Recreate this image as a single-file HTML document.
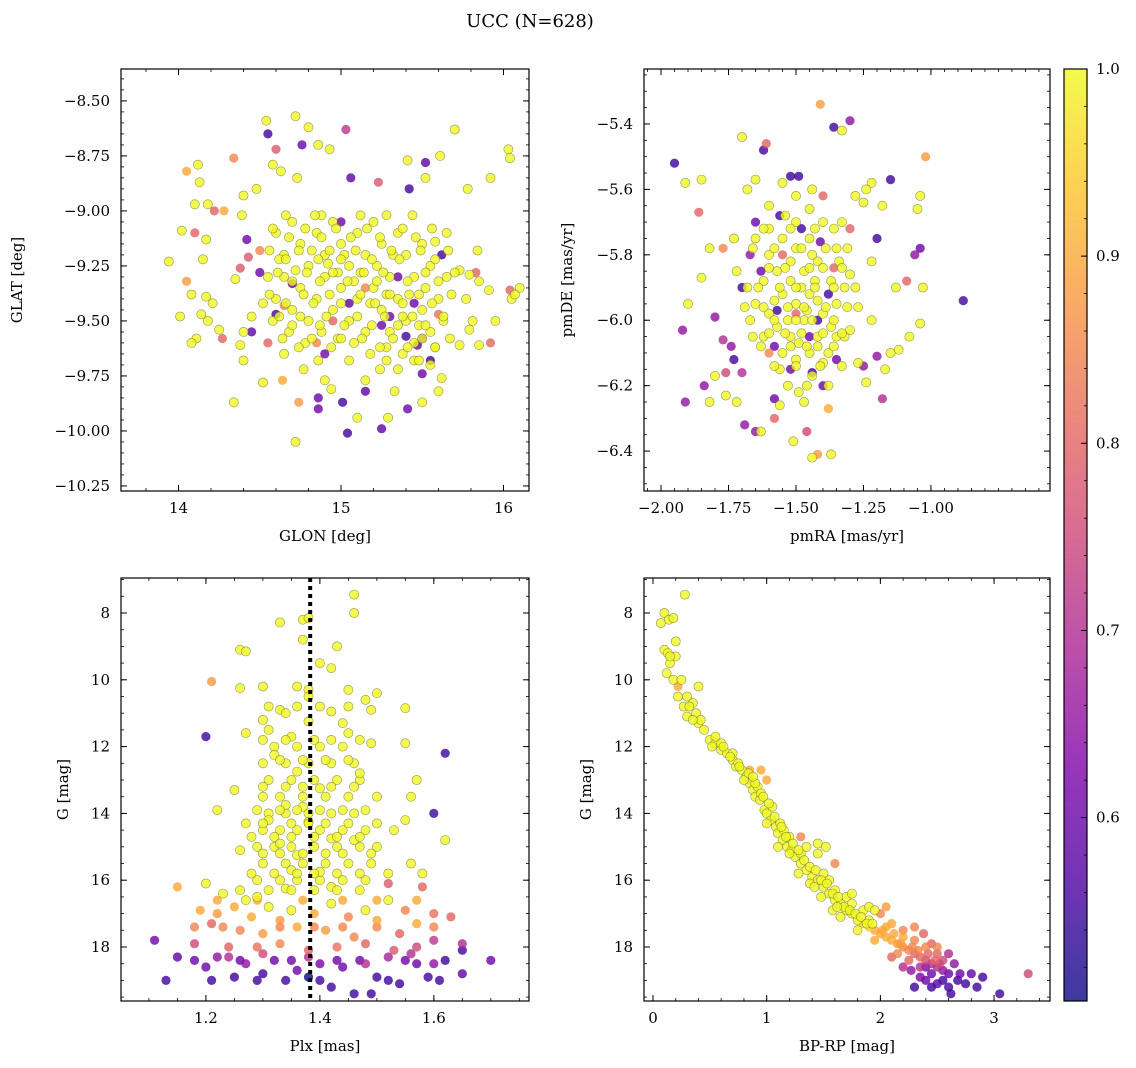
<!DOCTYPE html>
<html><head><meta charset="utf-8">
<style>
html,body{margin:0;padding:0;background:#fff;}
svg{display:block;font-family:"DejaVu Serif","Liberation Serif",serif;}
</style></head>
<body>
<svg id="fig" width="1136" height="1068" viewBox="0 0 1136 1068" xmlns="http://www.w3.org/2000/svg">
<defs>
<linearGradient id="cbgrad" x1="0" y1="1" x2="0" y2="0">
<stop offset="0" stop-color="#0d0887"/><stop offset="0.125" stop-color="#4c02a1"/><stop offset="0.25" stop-color="#7e03a8"/><stop offset="0.375" stop-color="#a92395"/><stop offset="0.5" stop-color="#cc4778"/><stop offset="0.625" stop-color="#e56b5d"/><stop offset="0.75" stop-color="#f89540"/><stop offset="0.875" stop-color="#fdc527"/><stop offset="1" stop-color="#f0f921"/>
</linearGradient>
</defs>
<text x="530" y="27" font-size="18" text-anchor="middle">UCC (N=628)</text>
</svg>
<script>
// ---------- data (x, y, membership probability) ----------
const glonGlat = [[14.55,-8.65,0.55],[14.6,-8.72,0.78],[14.05,-8.82,0.9],[14.12,-8.79,1],[14.13,-8.87,1],[14.34,-8.76,0.85],[14.54,-8.59,1],[14.72,-8.57,1],[14.8,-8.62,1],[15.03,-8.63,0.72],[14.76,-8.7,0.6],[14.86,-8.7,1],[14.93,-8.72,1],[14.58,-8.79,1],[14.63,-8.82,1],[14.73,-8.85,1],[15.41,-8.77,1],[15.52,-8.78,0.58],[15.52,-8.85,1],[15.61,-8.75,1],[15.7,-8.63,1],[16.03,-8.72,1],[16.04,-8.76,1],[15.06,-8.85,0.58],[15.23,-8.87,0.78],[15.42,-8.9,0.55],[15.78,-8.9,1],[15.92,-8.85,1],
[14.1,-8.97,1],[14.18,-8.97,1],[14.28,-9.0,0.9],[14.39,-9.02,1],[14.1,-9.1,0.8],[14.22,-9.0,0.8],[14.4,-8.93,1],[14.48,-8.9,1],[14.02,-9.09,1],[13.94,-9.23,1],[14.05,-9.32,0.88],[14.15,-9.22,1],[14.17,-9.13,1],[14.42,-9.13,0.6],[14.43,-9.21,0.78],[14.38,-9.26,0.78],[14.35,-9.31,1],
[14.17,-9.39,1],[14.21,-9.42,1],[14.08,-9.38,1],[14.01,-9.48,1],[14.14,-9.47,1],[14.18,-9.5,1],[14.11,-9.58,1],[14.25,-9.54,1],[14.27,-9.58,0.8],[14.4,-9.55,1],[14.45,-9.48,1],[14.38,-9.61,1],[14.08,-9.6,1],[14.4,-9.68,1],[14.52,-9.78,1],[14.64,-9.77,0.9],[14.65,-9.65,1],[14.77,-9.72,1],[14.9,-9.77,1],[14.34,-9.87,1],[14.74,-9.87,0.88],[14.72,-10.05,1],[14.94,-9.81,1],[15.01,-9.87,0.55],[14.86,-9.85,0.6],
[15.15,-9.82,0.58],[15.33,-9.82,1],[15.15,-9.77,1],[15.24,-9.72,1],[15.41,-9.9,0.6],[15.5,-9.87,1],[15.29,-9.94,1],[15.1,-9.94,1],[15.04,-10.01,0.55],[15.25,-9.99,0.58],[14.86,-9.9,0.6],
[15.73,-9.27,1],[15.79,-9.29,1],[15.85,-9.32,1],[15.91,-9.36,1],[15.77,-9.4,1],[15.81,-9.5,1],[15.63,-9.5,1],[15.73,-9.61,1],[15.85,-9.61,1],[15.95,-9.5,1],[15.79,-9.54,1],[16.04,-9.36,0.8],[16.05,-9.4,1],[16.1,-9.35,1],[16.07,-9.38,1],[15.84,-9.18,1],[15.65,-9.1,1],[15.58,-9.14,1],[15.83,-9.28,0.8],[15.92,-9.6,0.8],[15.55,-9.7,1],[15.62,-9.76,1],[15.5,-9.74,0.6],[15.47,-9.61,0.6],[15.6,-9.82,1],
[14.6,-9.1,1],[14.65,-9.2,1],[14.7,-9.05,1],[14.75,-9.15,1],[14.8,-9.25,1],[14.85,-9.1,1],[14.9,-9.2,1],[14.95,-9.05,1],[15.0,-9.15,1],[15.05,-9.25,1],[15.1,-9.1,1],[15.15,-9.2,1],[15.2,-9.05,1],[15.25,-9.15,1],[15.3,-9.3,1],[15.35,-9.1,1],[15.4,-9.2,1],[15.45,-9.3,1],[15.5,-9.15,1],[15.55,-9.25,1],
[14.55,-9.3,1],[14.6,-9.4,1],[14.65,-9.3,1],[14.7,-9.45,1],[14.75,-9.35,1],[14.8,-9.5,1],[14.85,-9.4,1],[14.9,-9.3,1],[14.95,-9.45,1],[15.0,-9.35,1],[15.05,-9.5,1],[15.1,-9.4,1],[15.15,-9.55,1],[15.2,-9.35,1],[15.25,-9.45,1],[15.3,-9.55,1],[15.35,-9.4,1],[15.4,-9.5,1],[15.45,-9.6,1],[15.5,-9.45,1],[15.55,-9.55,1],[15.6,-9.4,1],[15.65,-9.3,1],
[14.62,-9.22,1],[14.72,-9.27,1],[14.82,-9.18,1],[14.92,-9.24,1],[15.02,-9.2,1],[15.12,-9.28,1],[15.22,-9.25,1],[15.32,-9.2,1],[15.42,-9.38,1],[15.52,-9.35,1],[14.88,-9.02,1],[14.98,-9.28,1],[15.08,-9.32,1],[15.18,-9.42,1],[15.28,-9.38,1],[15.38,-9.48,1],[15.48,-9.52,1],[15.58,-9.62,1],[15.28,-9.62,1],[15.18,-9.65,1],[15.08,-9.6,1],[14.98,-9.58,1],[14.88,-9.55,1],[14.78,-9.6,1],[14.68,-9.55,1],[14.58,-9.5,1],[14.52,-9.42,1],[15.38,-9.65,1],[15.45,-9.68,1],[15.35,-9.72,1],
[14.7,-9.33,0.6],[15.05,-9.42,0.58],[15.25,-9.52,0.6],[15.4,-9.57,0.55],[15.5,-9.58,0.6],[14.9,-9.65,0.6],[15.3,-9.48,0.6],[14.5,-9.28,0.6],[14.6,-9.47,0.55],[15.45,-9.42,0.6],[15.0,-9.05,0.6],[15.35,-9.3,0.6],[14.45,-9.55,0.58],[15.55,-9.68,0.55],[15.62,-9.2,0.55],
[14.65,-9.43,0.85],[14.95,-9.5,0.8],[15.15,-9.35,0.85],[14.85,-9.6,0.85],[14.5,-9.18,0.85],[15.6,-9.47,0.82],[14.55,-9.6,0.8],
[14.66,-9.02,1],[14.84,-9.02,1],[15.12,-9.02,1],[15.28,-9.02,1],[15.44,-9.02,1],[14.58,-9.08,1],[14.78,-9.08,1],[14.97,-9.08,1],[15.16,-9.08,1],[15.38,-9.08,1],[15.56,-9.08,1],
[14.68,-9.12,1],[14.88,-9.12,1],[15.06,-9.12,1],[15.24,-9.12,1],[15.46,-9.12,1],[14.56,-9.18,1],[14.74,-9.18,1],[14.93,-9.18,1],[15.09,-9.18,1],[15.31,-9.18,1],[15.49,-9.18,1],[15.66,-9.18,1],
[14.66,-9.22,1],[14.86,-9.22,1],[15.0,-9.22,1],[15.19,-9.22,1],[15.36,-9.22,1],[15.58,-9.22,1],[14.61,-9.28,1],[14.79,-9.28,1],[14.95,-9.28,1],[15.14,-9.28,1],[15.26,-9.28,1],[15.52,-9.28,1],[15.7,-9.28,1],
[14.7,-9.32,1],[14.87,-9.32,1],[15.04,-9.32,1],[15.22,-9.32,1],[15.41,-9.32,1],[15.6,-9.32,1],[14.56,-9.38,1],[14.77,-9.38,1],[14.93,-9.38,1],[15.12,-9.38,1],[15.3,-9.38,1],[15.48,-9.38,1],[15.68,-9.38,1],
[14.66,-9.42,1],[14.83,-9.42,1],[15.0,-9.42,1],[15.21,-9.42,1],[15.38,-9.42,1],[15.56,-9.42,1],[14.62,-9.48,1],[14.75,-9.48,1],[14.91,-9.48,1],[15.1,-9.48,1],[15.27,-9.48,1],[15.44,-9.48,1],[15.63,-9.48,1],
[14.7,-9.52,1],[14.87,-9.52,1],[15.02,-9.52,1],[15.19,-9.52,1],[15.35,-9.52,1],[15.52,-9.52,1],[14.64,-9.58,1],[14.82,-9.58,1],[15.0,-9.58,1],[15.13,-9.58,1],[15.32,-9.58,1],[15.5,-9.58,1],[15.67,-9.58,1],
[14.74,-9.62,1],[14.94,-9.62,1],[15.24,-9.62,1],[15.41,-9.62,1],[15.58,-9.62,1],[14.86,-9.68,1],[15.05,-9.68,1],[15.28,-9.68,1],[15.48,-9.68,1]];

const pmraPmde = [[-1.95,-5.52,0.55],[-1.91,-5.58,1],[-1.85,-5.57,1],[-1.86,-5.67,0.8],[-1.41,-5.34,0.88],[-1.36,-5.41,0.55],[-1.3,-5.39,0.65],[-1.33,-5.42,1],[-1.70,-5.44,1],[-1.61,-5.46,0.8],[-1.62,-5.48,0.55],[-1.02,-5.5,0.88],[-1.15,-5.57,0.55],[-1.22,-5.58,1],[-1.24,-5.6,1],[-1.04,-5.62,1],[-1.05,-5.66,1],[-0.88,-5.94,0.55],[-1.92,-6.03,0.65],[-1.91,-6.25,0.65],[-1.84,-6.2,0.65],[-1.82,-6.25,1],[-1.72,-6.25,1],[-1.69,-6.32,0.65],[-1.65,-6.34,0.65],[-1.63,-6.34,1],[-1.58,-6.3,0.8],[-1.51,-6.37,1],[-1.46,-6.34,0.75],[-1.42,-6.41,0.88],[-1.37,-6.41,1],[-1.44,-6.42,1],[-1.38,-6.27,0.9],[-1.49,-6.22,1],[-1.47,-6.25,1],[-1.4,-6.2,0.6],[-1.44,-6.16,0.55],[-1.58,-6.24,0.6],[-1.56,-6.26,1],[-1.76,-6.23,1],[-1.8,-6.17,1],[-1.9,-5.95,1],[-1.85,-5.87,1],[-1.82,-5.78,1],[-1.77,-5.78,0.85],[-1.73,-5.75,1],[-1.68,-5.6,1],[-1.65,-5.57,1],[-1.55,-5.58,1],[-1.52,-5.56,0.55],[-1.49,-5.56,0.55],[-1.44,-5.6,1],[-1.4,-5.62,0.8],[-1.28,-5.62,1],[-1.25,-5.64,1],[-1.18,-5.65,1],[-1.06,-5.8,0.65],[-1.04,-5.78,0.6],[-1.03,-5.9,1],[-1.04,-6.01,1],[-1.08,-6.05,1],[-1.12,-6.09,1],[-1.15,-6.1,1],[-1.18,-6.24,0.7],[-1.17,-6.15,1],[-1.2,-6.11,0.65],[-1.25,-6.14,0.65],[-1.27,-6.13,1],[-1.24,-6.19,1],[-1.13,-5.9,1],[-1.09,-5.88,0.8],[-1.3,-5.86,1],[-1.2,-5.75,0.55],[-1.77,-6.06,0.7],[-1.73,-6.12,0.55],[-1.7,-6.16,0.7],[-1.76,-6.16,0.75],[-1.74,-6.08,0.65],[-1.8,-5.99,0.65],[-1.69,-5.96,1],[-1.72,-5.85,1],[-1.67,-5.8,0.65],[-1.6,-5.72,1],[-1.56,-5.68,0.55],[-1.33,-5.7,1],[-1.3,-5.72,0.8],[-1.22,-5.82,1],[-1.27,-5.96,1],[-1.35,-6.05,1],[-1.3,-6.03,1],[-1.22,-6.0,1],
[-1.65,-5.75,1],[-1.6,-5.8,1],[-1.55,-5.75,1],[-1.5,-5.7,1],[-1.45,-5.75,1],[-1.4,-5.7,1],[-1.35,-5.78,1],[-1.62,-5.88,1],[-1.57,-5.85,1],[-1.52,-5.82,1],[-1.47,-5.85,1],[-1.42,-5.82,1],[-1.37,-5.88,1],[-1.32,-5.9,1],[-1.65,-5.95,1],[-1.6,-5.98,1],[-1.55,-5.92,1],[-1.5,-5.95,1],[-1.45,-5.92,1],[-1.4,-5.98,1],[-1.35,-5.95,1],[-1.62,-6.05,1],[-1.57,-6.02,1],[-1.52,-6.05,1],[-1.47,-6.0,1],[-1.42,-6.05,1],[-1.37,-6.02,1],[-1.55,-6.1,1],[-1.5,-6.12,1],[-1.45,-6.1,1],[-1.4,-6.13,1],[-1.52,-5.88,1],[-1.48,-5.9,1],[-1.46,-5.97,1],[-1.53,-6.0,1],[-1.43,-5.88,1],[-1.58,-5.94,1],[-1.5,-5.78,1],[-1.44,-5.8,1],[-1.49,-6.07,1],[-1.44,-6.17,1],[-1.56,-6.15,1],[-1.6,-5.65,1],[-1.5,-5.62,1],[-1.45,-5.66,1],[-1.68,-5.9,1],[-1.66,-6.05,1],[-1.34,-5.82,1],[-1.38,-6.1,1],[-1.32,-6.05,1],[-1.54,-5.68,1],[-1.42,-5.94,1],
[-1.63,-5.85,0.6],[-1.58,-6.08,0.6],[-1.55,-5.8,0.8],[-1.45,-6.05,0.6],[-1.38,-5.92,0.55],[-1.35,-6.12,0.6],[-1.5,-5.98,0.8],[-1.65,-5.7,0.6],[-1.41,-5.76,0.6],[-1.6,-6.1,0.85],[-1.48,-5.72,0.55],[-1.52,-6.15,0.6],[-1.36,-5.84,0.8],[-1.7,-5.9,0.55],[-1.57,-5.97,0.55],[-1.42,-6.0,0.55],
[-1.62,-5.72,1],[-1.52,-5.72,1],[-1.43,-5.72,1],[-1.36,-5.72,1],[-1.66,-5.78,1],[-1.58,-5.78,1],[-1.48,-5.78,1],[-1.39,-5.78,1],[-1.31,-5.78,1],[-1.6,-5.84,1],[-1.54,-5.84,1],[-1.45,-5.84,1],[-1.4,-5.84,1],[-1.33,-5.84,1],
[-1.64,-5.9,1],[-1.56,-5.9,1],[-1.5,-5.9,1],[-1.43,-5.9,1],[-1.36,-5.9,1],[-1.28,-5.9,1],[-1.62,-5.96,1],[-1.53,-5.96,1],[-1.47,-5.96,1],[-1.39,-5.96,1],[-1.31,-5.96,1],
[-1.67,-6.0,1],[-1.58,-6.0,1],[-1.5,-6.0,1],[-1.44,-6.0,1],[-1.36,-6.0,1],[-1.6,-6.04,1],[-1.54,-6.04,1],[-1.48,-6.04,1],[-1.4,-6.04,1],[-1.33,-6.04,1],
[-1.63,-6.08,1],[-1.52,-6.08,1],[-1.46,-6.08,1],[-1.42,-6.08,1],[-1.36,-6.08,1],[-1.58,-6.14,1],[-1.5,-6.14,1],[-1.41,-6.14,1],[-1.33,-6.14,1],[-1.53,-6.2,1],[-1.46,-6.2,1],[-1.38,-6.2,1]];

const plxG = [[1.46,7.45,1],[1.46,8.0,1],[1.33,8.28,1],[1.37,8.2,1],[1.37,8.8,1],[1.38,8.15,1],[1.43,9.0,1],[1.26,9.1,1],[1.27,9.15,1],[1.4,9.5,1],[1.42,9.65,1],[1.21,10.05,0.88],[1.26,10.25,1],[1.3,10.2,1],[1.36,10.2,1],[1.38,10.3,1],[1.45,10.3,1],[1.5,10.4,1],[1.38,10.5,1],[1.48,10.6,1],[1.33,10.9,1],[1.42,10.95,1],[1.49,10.9,1],[1.55,10.85,1],[1.3,11.2,1],[1.31,11.5,1],[1.27,11.6,1],[1.35,11.7,1],[1.45,11.6,1],[1.49,11.9,1],[1.55,11.9,1],[1.2,11.7,0.55],[1.62,12.2,0.55],[1.57,13.0,1],[1.56,13.5,1],[1.53,14.5,1],[1.55,14.2,1],[1.5,15.0,1],[1.56,15.5,1],[1.22,13.9,1],[1.25,13.3,1],[1.27,14.3,1],[1.26,15.1,1],[1.6,14.0,0.55],[1.62,14.8,1],[1.58,15.8,1],
[1.32,12.0,1],[1.36,12.0,1],[1.40,12.0,1],[1.44,12.0,1],[1.30,12.5,1],[1.34,12.5,1],[1.38,12.5,1],[1.42,12.5,1],[1.46,12.5,1],[1.31,13.0,1],[1.35,13.0,1],[1.39,13.0,1],[1.43,13.0,1],[1.47,13.0,1],[1.30,13.5,1],[1.33,13.5,1],[1.37,13.5,1],[1.41,13.5,1],[1.45,13.5,1],[1.50,13.5,1],[1.31,14.0,1],[1.34,14.0,1],[1.38,14.0,1],[1.42,14.0,1],[1.46,14.0,1],[1.30,14.5,1],[1.33,14.5,1],[1.36,14.5,1],[1.40,14.5,1],[1.44,14.5,1],[1.48,14.5,1],[1.29,15.0,1],[1.32,15.0,1],[1.35,15.0,1],[1.39,15.0,1],[1.43,15.0,1],[1.47,15.0,1],[1.30,15.5,1],[1.34,15.5,1],[1.37,15.5,1],[1.41,15.5,1],[1.45,15.5,1],[1.49,15.5,1],[1.29,16.0,1],[1.33,16.0,1],[1.36,16.0,1],[1.40,16.0,1],[1.44,16.0,1],[1.48,16.0,1],[1.32,12.25,1],[1.36,12.75,1],[1.40,13.25,1],[1.34,13.75,1],[1.38,14.25,1],[1.42,14.75,1],[1.36,15.25,1],[1.40,15.75,1],[1.34,16.25,1],[1.38,11.25,1],[1.34,11.0,1],[1.44,11.3,1],[1.33,14.9,1],[1.35,15.7,1],[1.37,13.8,1],[1.31,14.2,1],[1.46,14.8,1],[1.42,16.2,1],[1.47,12.8,1],[1.29,16.5,1],
[1.2,16.1,1],[1.19,16.9,0.9],[1.15,16.2,0.9],[1.23,16.4,1],[1.25,16.8,0.9],[1.22,17.0,0.88],[1.27,16.6,1],[1.28,17.1,0.9],[1.31,16.8,1],[1.33,17.2,0.88],[1.35,16.9,1],[1.39,17.0,0.9],[1.42,16.7,1],[1.45,17.1,0.85],[1.48,16.9,1],[1.5,17.2,0.9],[1.52,16.6,1],[1.55,16.9,0.85],[1.57,17.3,0.9],[1.6,17.0,0.82],[1.63,17.1,0.8],[1.58,16.2,0.8],[1.52,16.1,0.78],[1.21,17.3,0.8],[1.26,17.5,0.85],[1.3,17.6,0.88],[1.36,17.4,0.9],[1.41,17.5,0.88],[1.46,17.7,0.85],[1.54,17.6,0.8],[1.18,17.9,0.75],[1.24,18.0,0.8],[1.29,18.0,0.82],[1.33,17.9,0.85],[1.38,18.1,0.8],[1.43,18.0,0.82],[1.48,17.9,0.8],[1.53,18.1,0.78],[1.57,18.0,0.75],[1.6,17.8,0.72],[1.65,17.9,0.7],
[1.11,17.8,0.6],[1.13,19.0,0.55],[1.15,18.3,0.58],[1.2,18.6,0.6],[1.22,18.3,0.65],[1.25,18.9,0.55],[1.27,18.5,0.65],[1.3,18.8,0.55],[1.32,18.4,0.6],[1.34,19.0,0.55],[1.36,18.7,0.6],[1.38,18.9,0.5],[1.4,18.5,0.62],[1.42,19.2,0.55],[1.44,18.6,0.6],[1.46,19.4,0.55],[1.49,19.4,0.55],[1.5,18.9,0.55],[1.52,18.3,0.68],[1.54,19.1,0.55],[1.57,18.5,0.6],[1.59,18.9,0.55],[1.62,18.4,0.55],[1.65,18.1,0.55],[1.65,18.8,0.58],[1.7,18.4,0.6],[1.24,18.3,0.7],[1.38,18.3,0.7],[1.48,18.5,0.7],[1.56,18.2,0.7],[1.3,18.2,0.75],[1.6,18.5,0.65],
[1.31,10.8,1],[1.36,10.8,1],[1.4,10.8,1],[1.45,10.8,1],[1.3,11.8,1],[1.34,11.8,1],[1.39,11.8,1],[1.42,11.8,1],[1.47,11.8,1],[1.33,12.4,1],[1.37,12.4,1],[1.41,12.4,1],[1.45,12.4,1],
[1.3,13.2,1],[1.34,13.2,1],[1.37,13.2,1],[1.42,13.2,1],[1.46,13.2,1],[1.29,13.9,1],[1.33,13.9,1],[1.36,13.9,1],[1.4,13.9,1],[1.44,13.9,1],[1.48,13.9,1],
[1.3,14.3,1],[1.35,14.3,1],[1.38,14.3,1],[1.41,14.3,1],[1.45,14.3,1],[1.5,14.3,1],[1.28,14.7,1],[1.32,14.7,1],[1.35,14.7,1],[1.39,14.7,1],[1.43,14.7,1],[1.47,14.7,1],
[1.3,15.2,1],[1.33,15.2,1],[1.37,15.2,1],[1.41,15.2,1],[1.44,15.2,1],[1.49,15.2,1],[1.28,15.8,1],[1.32,15.8,1],[1.36,15.8,1],[1.39,15.8,1],[1.43,15.8,1],[1.47,15.8,1],[1.52,15.8,1],
[1.26,16.3,1],[1.31,16.3,1],[1.35,16.3,1],[1.39,16.3,1],[1.43,16.3,1],[1.47,16.3,1],
[1.22,16.6,0.9],[1.29,16.6,0.9],[1.37,16.6,0.9],[1.44,16.6,0.9],[1.5,16.6,0.9],[1.57,16.6,0.9],
[1.18,17.4,0.85],[1.23,17.4,0.85],[1.33,17.4,0.85],[1.39,17.4,0.85],[1.44,17.4,0.85],[1.5,17.4,0.85],[1.6,17.4,0.85],
[1.18,18.4,0.6],[1.26,18.4,0.6],[1.35,18.4,0.6],[1.43,18.4,0.6],[1.47,18.4,0.6],[1.55,18.4,0.6],
[1.21,19.0,0.55],[1.29,19.0,0.55],[1.4,19.0,0.55],[1.52,19.0,0.55],[1.61,19.0,0.55]];

const bprpG = [[0.07,8.3,1],[0.1,8.0,1],[0.14,8.2,1],[0.28,7.45,1],[0.18,8.15,1],[0.2,8.85,1],[0.1,9.1,1],[0.13,9.2,1],[0.15,9.5,1],[0.2,9.3,1],[0.12,9.8,1],[0.18,10.0,1],[0.22,10.2,0.9],[0.25,10.0,1],[0.3,10.5,1],[0.27,10.8,1],[0.35,10.7,1],[0.3,11.1,1],[0.38,11.0,1],[0.4,11.3,1],[0.45,11.5,1],[0.5,11.8,1],[0.55,11.9,1],[0.6,12.1,1],[0.65,12.2,1],[0.7,12.4,1],[0.73,12.6,1],[0.78,12.7,1],[0.82,12.9,1],[0.85,13.1,1],[0.88,13.3,1],[0.9,13.5,1],[0.94,13.6,1],[0.98,13.9,1],[1.0,14.0,1],[1.04,14.2,1],[1.08,14.4,1],[1.1,14.6,1],[1.14,14.8,1],[1.18,15.0,1],[1.22,15.1,1],[1.25,15.3,1],[1.3,15.5,1],[1.35,15.7,1],[1.4,15.9,1],[1.45,16.0,1],[1.5,16.2,1],[1.55,16.4,1],[1.6,16.6,1],[1.65,16.7,1],[1.7,16.9,1],[1.75,17.0,1],[1.8,17.2,1],[1.85,17.3,0.95],[1.9,17.4,0.95],[1.95,17.5,0.9],[2.0,17.6,0.9],[2.05,17.7,0.9],[2.1,17.8,0.9],[2.15,17.9,0.88],[2.2,18.0,0.85],[2.25,18.1,0.85],[2.3,18.2,0.8],[2.35,18.3,0.8],[2.4,18.4,0.75],[2.45,18.5,0.7],[2.5,18.6,0.7],[2.55,18.7,0.65],[2.6,18.8,0.6],
[0.6,11.9,1],[0.52,12.0,1],[0.7,12.2,1],[0.75,12.5,1],[0.85,12.7,0.9],[0.92,13.2,1],[0.8,13.0,1],[0.95,13.4,1],[1.05,13.8,1],[1.0,14.3,1],[1.12,14.3,1],[1.15,14.5,1],[1.1,15.0,1],[1.2,14.7,1],[1.3,15.2,1],[1.35,15.0,1],[1.45,15.2,1],[1.28,15.8,1],[1.38,16.1,1],[1.5,15.8,1],[1.55,16.0,1],[1.6,16.3,1],[1.48,16.5,1],[1.58,16.9,1],[1.7,16.5,1],[1.75,16.7,1],[1.85,16.9,1],[1.65,17.1,1],[1.8,17.5,1],[1.9,17.2,1],[1.95,17.8,0.9],[2.05,17.4,0.9],[2.2,17.7,0.9],[2.15,18.2,0.85],[2.3,17.8,0.85],[2.25,18.4,0.8],[2.4,18.0,0.85],[2.5,18.2,0.8],[2.35,18.6,0.7],[2.45,18.8,0.6],[2.55,18.4,0.75],[2.65,18.5,0.65],[2.7,18.8,0.6],[2.8,18.8,0.58],[2.9,18.9,0.55],[2.75,19.1,0.55],[2.6,19.2,0.55],[2.5,19.1,0.58],[2.4,19.0,0.6],[2.3,19.2,0.55],[2.35,18.9,0.62],[2.62,19.4,0.55],[2.85,19.2,0.55],[3.05,19.4,0.55],[2.2,18.6,0.7],[2.1,18.3,0.8],[3.3,18.8,0.75],[1.3,14.7,0.85],[1.6,15.5,0.85],[1.45,14.9,1],[1.52,15.0,1],[0.85,13.0,0.9],[1.0,13.0,0.9],[1.75,16.4,1],[2.0,17.0,0.85],[2.05,16.8,0.88],[2.2,17.5,0.85],[2.3,17.4,0.85],[2.45,17.9,0.8],[2.1,17.3,0.9],[2.38,17.6,0.8],[2.5,18.0,0.85],[2.6,18.2,0.7],[1.9,16.8,1],[1.95,16.9,1],[0.95,12.7,0.9],[0.42,11.2,1],[0.35,11.2,1],[0.32,10.8,1],[0.4,10.2,1],[0.22,10.5,1],[0.15,9.3,1],
[0.55,11.7,1],[0.62,12.0,1],[0.68,12.3,1],[0.76,12.6,1],[0.84,12.8,1],[0.9,13.1,1],[0.97,13.5,1],[1.02,13.7,1],[1.07,14.1,1],[1.13,14.4,1],[1.17,14.7,1],[1.23,14.9,1],[1.28,15.1,1],[1.33,15.4,1],[1.38,15.6,1],[1.43,15.7,1],[1.48,16.0,1],[1.53,16.1,1],[1.58,16.4,1],[1.63,16.5,1],[1.68,16.8,1],[1.73,16.9,1],[1.78,17.0,1],[1.83,17.1,1],[1.88,17.3,1],[1.93,17.3,1],[0.88,12.9,1],[1.2,15.2,1],[1.42,16.2,1],[1.62,16.8,1],
[2.02,17.5,0.9],[2.12,17.6,0.9],[2.18,17.9,0.88],[2.28,18.0,0.85],[2.33,18.1,0.85],[2.42,18.2,0.8],[2.48,18.4,0.8],[2.52,18.5,0.75],[2.27,18.7,0.65],[2.4,18.6,0.62],[2.55,19.0,0.55],[2.68,19.0,0.55],[2.45,19.2,0.55]];

const plxLine = [1.383];
const cbTicks = [0.6, 0.7, 0.8, 0.9, 1.0];
const p1xTicks = [14, 15, 16];
const p1yTicks = [-8.5, -8.75, -9.0, -9.25, -9.5, -9.75, -10.0, -10.25];
const p2xTicks = [-2.0, -1.75, -1.5, -1.25, -1.0];
const p2yTicks = [-5.4, -5.6, -5.8, -6.0, -6.2, -6.4];
const p3xTicks = [1.2, 1.4, 1.6];
const gTicks = [8, 10, 12, 14, 16, 18];
const p4xTicks = [0, 1, 2, 3];

// ---------- helpers ----------
const NS = "http://www.w3.org/2000/svg";
const svg = document.getElementById('fig');
function mk(tag, attrs, parent){ const e=document.createElementNS(NS,tag); for(const k in attrs) e.setAttribute(k,attrs[k]); (parent||svg).appendChild(e); return e; }
const stops=[[13,8,135],[76,2,161],[126,3,168],[169,35,149],[204,71,120],[229,107,93],[248,149,64],[253,197,39],[240,249,33]];
const VMIN=0.5, VMAX=1.0;
function plasma(v){ let t=(v-VMIN)/(VMAX-VMIN); t=Math.max(0,Math.min(1,t)); const s=t*8, i=Math.min(7,Math.floor(s)), f=s-i; const a=stops[i], b=stops[i+1]; return `rgb(${Math.round(a[0]+(b[0]-a[0])*f)},${Math.round(a[1]+(b[1]-a[1])*f)},${Math.round(a[2]+(b[2]-a[2])*f)})`; }
function fmt(v,d){ return (v<0?'\u2212':'')+Math.abs(v).toFixed(d); }

function panel(o){
  const g = mk('g',{});
  
  
  const sx = v => o.L + (v-o.x0)/(o.x1-o.x0)*(o.R-o.L);
  const sy = v => o.T + (v-o.y0)/(o.y1-o.y0)*(o.B-o.T);
  const pts = o.data.slice().sort((a,b)=>a[2]-b[2]);
  const cg = mk('g',{},g);
  
  
  pts.forEach(d=>{
    const x=sx(d[0]), y=sy(d[1]);
    if(x<o.L||x>o.R||y<o.T||y>o.B) return;
    const c = mk('circle',{cx:x.toFixed(1),cy:y.toFixed(1),r:4.6,fill:plasma(d[2]),'fill-opacity':0.8,stroke:d[2]>0.95?'#6b6b30':'none','stroke-opacity':0.7,'stroke-width':0.6},cg);
    
    
  });
  if(o.vline){ o.vline.forEach(v=>{ const l=mk('line',{x1:sx(v),x2:sx(v),y1:o.T,y2:o.B,stroke:'#000','stroke-width':4,'stroke-dasharray':'4,4'},g);
    
     }); }
  mk('rect',{x:o.L,y:o.T,width:o.R-o.L,height:o.B-o.T,fill:'none',stroke:'#000','stroke-width':1.2},g);
  const eps=1e-9;
  for(let v=Math.ceil(Math.min(o.x0,o.x1)/o.xm)*o.xm; v<=Math.max(o.x0,o.x1)+eps; v+=o.xm){ const x=sx(v);
    mk('line',{x1:x,x2:x,y1:o.B,y2:o.B-3,stroke:'#000','stroke-width':0.8},g); mk('line',{x1:x,x2:x,y1:o.T,y2:o.T+3,stroke:'#000','stroke-width':0.8},g); }
  for(let v=Math.ceil(Math.min(o.y0,o.y1)/o.ym)*o.ym; v<=Math.max(o.y0,o.y1)+eps; v+=o.ym){ const y=sy(v);
    mk('line',{x1:o.L,x2:o.L+3,y1:y,y2:y,stroke:'#000','stroke-width':0.8},g); mk('line',{x1:o.R,x2:o.R-3,y1:y,y2:y,stroke:'#000','stroke-width':0.8},g); }
  o.xt.forEach(v=>{ const x=sx(v);
    mk('line',{x1:x,x2:x,y1:o.B,y2:o.B-6,stroke:'#000','stroke-width':1},g); mk('line',{x1:x,x2:x,y1:o.T,y2:o.T+6,stroke:'#000','stroke-width':1},g);
    const t=mk('text',{x:x,y:o.B+22,'font-size':15,'text-anchor':'middle'},g); t.textContent=fmt(v,o.xd);
    
     });
  o.yt.forEach(v=>{ const y=sy(v);
    mk('line',{x1:o.L,x2:o.L+6,y1:y,y2:y,stroke:'#000','stroke-width':1},g); mk('line',{x1:o.R,x2:o.R-6,y1:y,y2:y,stroke:'#000','stroke-width':1},g);
    const t=mk('text',{x:o.L-11,y:y+5,'font-size':15,'text-anchor':'end'},g); t.textContent=fmt(v,o.yd);
    
     });
  const xl=mk('text',{x:(o.L+o.R)/2,y:o.B+50,'font-size':15,'text-anchor':'middle'},g); xl.textContent=o.xlab;
  
  
  const yl=mk('text',{x:o.ylx,y:(o.T+o.B)/2,'font-size':15,'text-anchor':'middle',transform:`rotate(-90 ${o.ylx} ${(o.T+o.B)/2})`},g); yl.textContent=o.ylab;
  
  
}

panel({name:'glon-glat-panel',data:glonGlat,L:121,R:529,T:69,B:491,x0:13.646,x1:16.157,y0:-8.355,y1:-10.273,xt:p1xTicks,yt:p1yTicks,xd:0,yd:2,xm:0.2,ym:0.05,xlab:'GLON [deg]',ylab:'GLAT [deg]',ylx:22});
panel({name:'pm-panel',data:pmraPmde,L:644,R:1050,T:69,B:491,x0:-2.063,x1:-0.559,y0:-5.232,y1:-6.522,xt:p2xTicks,yt:p2yTicks,xd:2,yd:1,xm:0.05,ym:0.05,xlab:'pmRA [mas/yr]',ylab:'pmDE [mas/yr]',ylx:572});
panel({name:'plx-g-panel',data:plxG,L:121,R:529,T:578,B:1001,x0:1.051,x1:1.767,y0:6.952,y1:19.617,xt:p3xTicks,yt:gTicks,xd:1,yd:0,xm:0.05,ym:0.5,xlab:'Plx [mas]',ylab:'G [mag]',ylx:68,vline:plxLine});
panel({name:'cmd-panel',data:bprpG,L:644,R:1050,T:578,B:1001,x0:-0.079,x1:3.492,y0:6.952,y1:19.617,xt:p4xTicks,yt:gTicks,xd:0,yd:0,xm:0.2,ym:0.5,xlab:'BP-RP [mag]',ylab:'G [mag]',ylx:591});

// colorbar
(function(){
  const g=mk('g',{});  
  const L=1064,R=1087,T=69,B=1001, cmin=0.502, cmax=1.0;
  const sy=v=>B-(v-cmin)/(cmax-cmin)*(B-T);
  mk('rect',{x:L,y:T,width:R-L,height:B-T,fill:'url(#cbgrad)','fill-opacity':0.8},g);
  mk('rect',{x:L,y:T,width:R-L,height:B-T,fill:'none',stroke:'#000','stroke-width':1.2},g);
  for(let v=0.52; v<=1.0001; v+=0.02){ const y=sy(v); mk('line',{x1:R,x2:R-3,y1:y,y2:y,stroke:'#000','stroke-width':0.8},g); }
  cbTicks.forEach(v=>{ const y=sy(v); mk('line',{x1:R,x2:R-6,y1:y,y2:y,stroke:'#000','stroke-width':1},g);
    const t=mk('text',{x:R+9,y:y+5,'font-size':15},g); t.textContent=v.toFixed(1);
    
     });
})();
</script>
</body></html>
